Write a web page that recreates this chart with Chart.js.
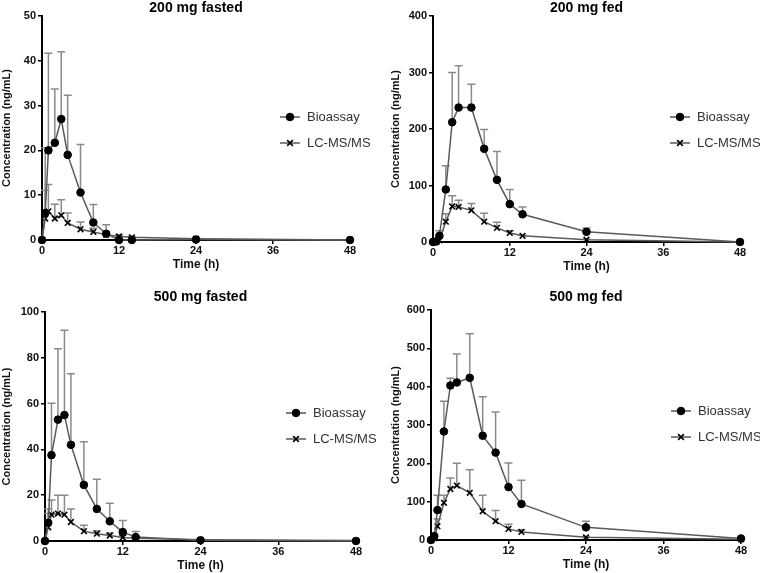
<!DOCTYPE html>
<html>
<head>
  <title>Concentration vs time</title>
  <style>
      body {
          margin: 0;
          padding: 0;
          background: #ffffff;
      }
      .panel {
          position: absolute;
      }
  </style>
</head>
<body>
  <div class="panel" style="left:0;top:0"><canvas id="c1" width="380" height="280"></canvas></div>
  <div class="panel" style="left:380px;top:0"><canvas id="c2" width="380" height="280"></canvas></div>
  <div class="panel" style="left:0;top:280px"><canvas id="c3" width="380" height="293"></canvas></div>
  <div class="panel" style="left:380px;top:280px"><canvas id="c4" width="380" height="293"></canvas></div>
  <script src="https://cdn.jsdelivr.net/npm/chart.js"></script>
  <script>
      // sampling times (h)
      const hours = [0, 0.5, 1, 2, 3, 4, 6, 8, 10, 12, 14, 24, 48];
      const xTicks = [0, 12, 24, 36, 48];

      // 200 mg fasted
      const fasted200Bio = [0, 6, 20, 21.7, 27, 19, 10.6, 3.9, 1.4, 0, 0, 0.1, 0];
      const fasted200BioSd = [0, 14.6, 21.7, 12, 15, 13.3, 10.7, 4, 2, 1, 0.6, 0.2, 0];
      const fasted200Lc = [0, 4.8, 6.4, 4.8, 5.5, 3.8, 2.4, 1.8, 1.2, 0.8, 0.6, 0.3, 0];
      const fasted200LcSd = [0, 6.3, 6, 3.2, 3.5, 2.2, 1.6, 0.8, 0.6, 0.3, 0.2, 0.1, 0];

      // 200 mg fed
      const fed200Bio = [0, 1, 11, 93, 212, 238, 238, 165, 110, 67, 49, 18, 0];
      const fed200BioSd = [0, 1, 9, 42, 88, 74, 41, 34, 50, 26, 13, 7, 1];
      const fed200Lc = [0, 0, 3, 36, 63, 62, 56, 36, 25, 16, 11, 4, 0];
      const fed200LcSd = [0, 1, 5, 14, 19, 12, 12, 15, 10, 4, 1, 1, 0];

      // 500 mg fasted
      const fasted500Bio = [0, 8, 37.5, 53, 55, 42, 24.5, 14, 8.6, 3.9, 1.7, 0.3, 0];
      const fasted500BioSd = [0, 6, 22.7, 31, 37, 31, 18.8, 13, 7.9, 5, 2.5, 0.7, 0];
      const fasted500Lc = [0, 6, 11.5, 12, 11.5, 8.3, 4.3, 3.2, 2.4, 1.5, 1.2, 0.5, 0.2];
      const fasted500LcSd = [0, 6, 6.4, 8, 8.5, 5.7, 2.6, 1.3, 1.1, 1, 0.6, 0.3, 0.1];

      // 500 mg fed
      const fed500Bio = [0, 10, 78, 283, 403, 411, 423, 272, 228, 138, 94, 33, 4];
      const fed500BioSd = [0, 4, 39, 79, 19, 74, 115, 102, 106, 63, 62, 16, 2];
      const fed500Lc = [0, 5, 36, 97, 133, 142, 123, 75, 49, 29, 21, 7, 2];
      const fed500LcSd = [0, 3, 19, 20, 29, 58, 60, 42, 28, 12, 6, 2, 1];

      const FONT = 'Arial, "Liberation Sans", sans-serif';

      // upper-only error bars (mean + SD)
      const errorBars = {
          id: 'errorBars',
          beforeDatasetsDraw(chart) {
              const ctx = chart.ctx;
              const ys = chart.scales.y;
              chart.data.datasets.forEach((ds, i) => {
                  const meta = chart.getDatasetMeta(i);
                  meta.data.forEach((pt, j) => {
                      const err = ds.errorUp[j];
                      if (!err) return;
                      const top = ys.getPixelForValue(ds.data[j].y + err);
                      ctx.save();
                      ctx.strokeStyle = '#8a8a8a';
                      ctx.lineWidth = 1.5;
                      ctx.beginPath();
                      ctx.moveTo(pt.x, pt.y);
                      ctx.lineTo(pt.x, top);
                      ctx.moveTo(pt.x - 4, top);
                      ctx.lineTo(pt.x + 4, top);
                      ctx.stroke();
                      ctx.restore();
                  });
              });
          }
      };

      // legend drawn inside the plot area, right side; panel title centred over the plot
      const insideLegend = {
          id: 'insideLegend',
          afterDatasetsDraw(chart, args, opts) {
              const ctx = chart.ctx;
              const area = chart.chartArea;
              ctx.save();
              ctx.fillStyle = '#000';
              ctx.font = 'bold 14px ' + FONT;
              ctx.textAlign = 'center';
              ctx.textBaseline = 'middle';
              ctx.fillText(opts.title, (area.left + area.right) / 2, opts.titleY);
              ctx.restore();

              const x0 = area.right - 70;
              chart.data.datasets.forEach((ds, i) => {
                  const y = area.top + 101 + i * 26;
                  ctx.save();
                  ctx.strokeStyle = ds.borderColor;
                  ctx.lineWidth = 1.5;
                  ctx.beginPath();
                  ctx.moveTo(x0, y);
                  ctx.lineTo(x0 + 20, y);
                  ctx.stroke();
                  ctx.fillStyle = ds.pointBackgroundColor;
                  ctx.strokeStyle = ds.pointBorderColor;
                  ctx.lineWidth = ds.pointBorderWidth;
                  Chart.helpers.drawPoint(ctx, {
                      pointStyle: ds.pointStyle,
                      radius: ds.pointRadius,
                      borderWidth: ds.pointBorderWidth,
                      rotation: 0
                  }, x0 + 10, y);
                  ctx.fillStyle = '#333';
                  ctx.font = '13px ' + FONT;
                  ctx.textBaseline = 'middle';
                  ctx.textAlign = 'left';
                  ctx.fillText(ds.label, x0 + 27, y);
                  ctx.restore();
              });
          }
      };

      function toPoints(values) {
          return hours.map((h, i) => ({ x: h, y: values[i] }));
      }

      function makeChart(id, opts) {
          const ctx = document.getElementById(id).getContext('2d');
          return new Chart(ctx, {
              type: 'line',
              data: {
                  datasets: [
                      {
                          label: 'Bioassay',
                          data: toPoints(opts.bio),
                          errorUp: opts.bioSd,
                          borderColor: '#5a5a5a',
                          borderWidth: 1.5,
                          pointStyle: 'circle',
                          pointRadius: 3.8,
                          pointBackgroundColor: '#000',
                          pointBorderColor: '#000',
                          pointBorderWidth: 1,
                          clip: false
                      },
                      {
                          label: 'LC-MS/MS',
                          data: toPoints(opts.lc),
                          errorUp: opts.lcSd,
                          borderColor: '#5a5a5a',
                          borderWidth: 1.5,
                          pointStyle: 'crossRot',
                          pointRadius: 4,
                          pointBackgroundColor: '#000',
                          pointBorderColor: '#000',
                          pointBorderWidth: 1.6,
                          clip: false
                      }
                  ]
              },
              options: {
                  responsive: false,
                  animation: false,
                  devicePixelRatio: 1,
                  layout: { padding: opts.padding },
                  plugins: {
                      legend: { display: false },
                      tooltip: { enabled: false },
                      title: { display: false },
                      insideLegend: { title: opts.title, titleY: opts.titleY }
                  },
                  scales: {
                      x: {
                          type: 'linear',
                          min: 0,
                          max: 48,
                          afterBuildTicks: (scale) => {
                              scale.ticks = xTicks.map(v => ({ value: v }));
                          },
                          afterFit: (scale) => { scale.height = 32; },
                          border: { color: '#000', width: 2 },
                          grid: { drawOnChartArea: false, drawTicks: true, tickLength: 4, color: '#000', lineWidth: 1.5 },
                          ticks: { padding: 0, color: '#111', maxRotation: 0, font: { family: FONT, size: 11, weight: 'bold' } },
                          title: {
                              display: true,
                              text: 'Time (h)',
                              color: '#111',
                              padding: 0,
                              font: { family: FONT, size: 12, weight: 'bold' }
                          }
                      },
                      y: {
                          min: 0,
                          max: opts.yMax,
                          ticks: {
                              stepSize: opts.yStep,
                              padding: 2,
                              color: '#111',
                              font: { family: FONT, size: 11, weight: 'bold' }
                          },
                          afterFit: (scale) => { scale.width = opts.yWidth; },
                          border: { color: '#000', width: 2 },
                          grid: { drawOnChartArea: false, drawTicks: true, tickLength: 4, color: '#000', lineWidth: 1.5 },
                          title: {
                              display: true,
                              text: 'Concentration (ng/mL)',
                              color: '#111',
                              padding: 0,
                              font: { family: FONT, size: 11, weight: 'bold' }
                          }
                      }
                  }
              },
              plugins: [errorBars, insideLegend]
          });
      }

      makeChart('c1', {
          title: '200 mg fasted', bio: fasted200Bio, bioSd: fasted200BioSd, lc: fasted200Lc, lcSd: fasted200LcSd,
          yMax: 50, yStep: 10, yWidth: 42, titleY: 8,
          padding: { left: 0, right: 30, top: 16, bottom: 8 }
      });
      makeChart('c2', {
          title: '200 mg fed', bio: fed200Bio, bioSd: fed200BioSd, lc: fed200Lc, lcSd: fed200LcSd,
          yMax: 400, yStep: 100, yWidth: 44, titleY: 8,
          padding: { left: 9, right: 20, top: 16, bottom: 6 }
      });
      makeChart('c3', {
          title: '500 mg fasted', bio: fasted500Bio, bioSd: fasted500BioSd, lc: fasted500Lc, lcSd: fasted500LcSd,
          yMax: 100, yStep: 20, yWidth: 45, titleY: 17,
          padding: { left: 0, right: 24, top: 32, bottom: 0 }
      });
      makeChart('c4', {
          title: '500 mg fed', bio: fed500Bio, bioSd: fed500BioSd, lc: fed500Lc, lcSd: fed500LcSd,
          yMax: 600, yStep: 100, yWidth: 42, titleY: 17,
          padding: { left: 9, right: 19, top: 30, bottom: 1 }
      });
  </script>
</body>
</html>
